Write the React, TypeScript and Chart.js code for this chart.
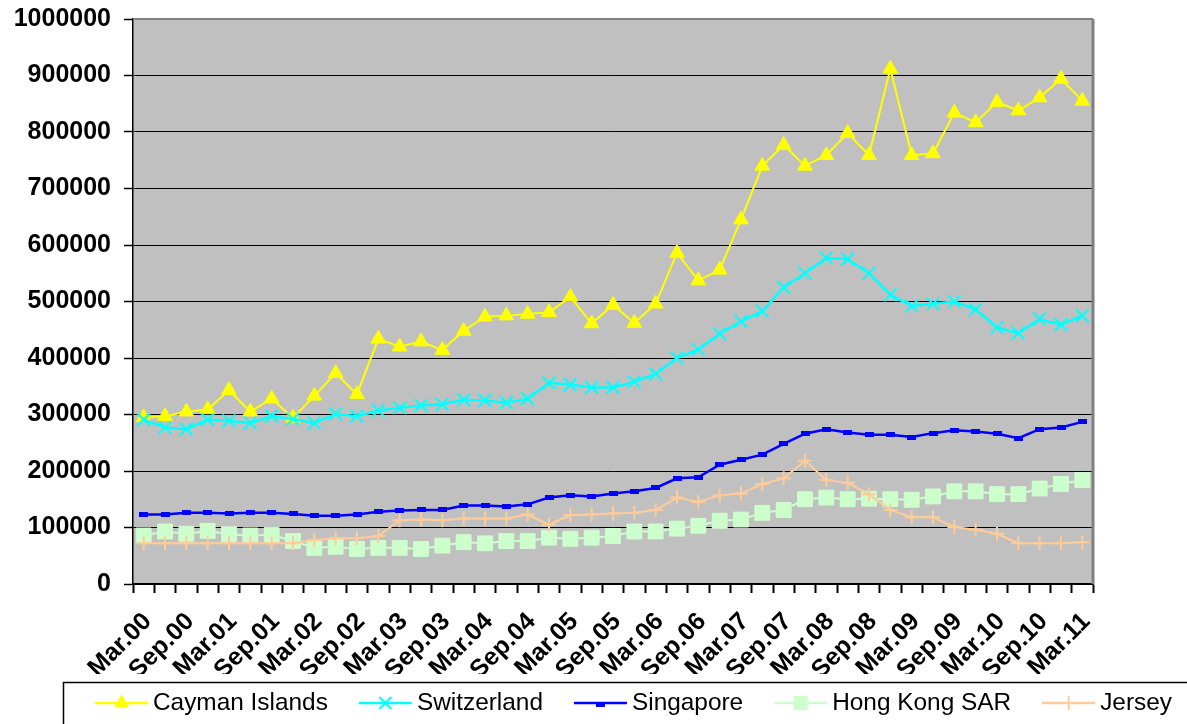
import React, { useEffect, useRef } from "react";
import { Chart, registerables } from "chart.js";

Chart.register(...registerables);

const categories = [
  "Mar.00", "Jun.00", "Sep.00", "Dec.00",
  "Mar.01", "Jun.01", "Sep.01", "Dec.01",
  "Mar.02", "Jun.02", "Sep.02", "Dec.02",
  "Mar.03", "Jun.03", "Sep.03", "Dec.03",
  "Mar.04", "Jun.04", "Sep.04", "Dec.04",
  "Mar.05", "Jun.05", "Sep.05", "Dec.05",
  "Mar.06", "Jun.06", "Sep.06", "Dec.06",
  "Mar.07", "Jun.07", "Sep.07", "Dec.07",
  "Mar.08", "Jun.08", "Sep.08", "Dec.08",
  "Mar.09", "Jun.09", "Sep.09", "Dec.09",
  "Mar.10", "Jun.10", "Sep.10", "Dec.10",
  "Mar.11",
];

const caymanIslands = [
  295000, 297000, 305000, 309000, 343000, 305000, 328000, 294000, 333000, 373000, 336000, 434000, 420000, 429000, 414000,
  448000, 473000, 475000, 478000, 481000, 508000, 461000, 494000, 462000, 496000, 586000, 537000, 556000, 645000, 740000,
  777000, 740000, 759000, 798000, 759000, 912000, 759000, 762000, 834000, 817000, 853000, 838000, 861000, 894000, 855000,
];

const switzerland = [
  291000, 277000, 274000, 291000, 289000, 285000, 297000, 292000, 285000, 301000, 297000, 307000, 312000, 316000, 318000,
  326000, 325000, 321000, 328000, 356000, 353000, 348000, 348000, 358000, 372000, 400000, 415000, 443000, 465000, 483000,
  525000, 550000, 577000, 575000, 550000, 512000, 492000, 496000, 500000, 486000, 454000, 444000, 469000, 459000, 475000,
];

const singapore = [
  123000, 123000, 126000, 126000, 125000, 126000, 126000, 124000, 121000, 121000, 123000, 128000, 130000, 131000, 131000,
  139000, 139000, 137000, 141000, 153000, 157000, 155000, 160000, 164000, 170000, 187000, 189000, 211000, 220000, 229000,
  248000, 266000, 274000, 268000, 264000, 264000, 260000, 267000, 272000, 270000, 266000, 258000, 274000, 277000, 287000,
];

const hongKongSAR = [
  86000, 93000, 89000, 94000, 88000, 86000, 87000, 76000, 64000, 66000, 62000, 64000, 64000, 62000, 68000,
  74000, 72000, 76000, 76000, 82000, 80000, 82000, 85000, 93000, 93000, 98000, 103000, 112000, 114000, 126000,
  131000, 150000, 153000, 150000, 151000, 150000, 149000, 155000, 164000, 164000, 159000, 159000, 169000, 177000, 184000,
];

const jersey = [
  72000, 72000, 72000, 72000, 72000, 72000, 72000, 72000, 78000, 81000, 81000, 85000, 113000, 114000, 113000,
  116000, 116000, 116000, 123000, 105000, 122000, 123000, 125000, 126000, 131000, 153000, 145000, 157000, 160000, 177000,
  187000, 218000, 184000, 179000, 159000, 131000, 118000, 118000, 101000, 96000, 89000, 72000, 72000, 72000, 74000,
];

const seriesNames = ["Cayman Islands", "Switzerland", "Singapore", "Hong Kong SAR", "Jersey"];
const seriesColors = ["#FFFF00", "#00FFFF", "#0000FF", "#CCFFCC", "#FFCC99"];
const seriesMarkers = ["triangle", "crossRot", "dash", "rect", "cross"];

const FONT = "'Liberation Sans', Arial, sans-serif";

function makeDashMarker(color: string) {
  const c = document.createElement("canvas");
  c.width = 9;
  c.height = 5;
  const g = c.getContext("2d")!;
  g.fillStyle = color;
  g.fillRect(0, 0, 9, 5);
  return c;
}

function drawMarker(ctx: CanvasRenderingContext2D, kind: string, x: number, y: number, color: string) {
  ctx.save();
  ctx.fillStyle = color;
  ctx.strokeStyle = color;
  ctx.lineWidth = 2;
  ctx.beginPath();
  if (kind === "triangle") {
    const r = 8.5;
    ctx.moveTo(x, y - r);
    ctx.lineTo(x + r * 0.866, y + r / 2);
    ctx.lineTo(x - r * 0.866, y + r / 2);
    ctx.closePath();
    ctx.fill();
  } else if (kind === "crossRot") {
    const r = 6;
    ctx.moveTo(x - r, y - r);
    ctx.lineTo(x + r, y + r);
    ctx.moveTo(x + r, y - r);
    ctx.lineTo(x - r, y + r);
    ctx.stroke();
  } else if (kind === "dash") {
    ctx.fillRect(x - 4.5, y - 1, 9, 5);
  } else if (kind === "rect") {
    ctx.fillRect(x - 7, y - 7, 14, 14);
  } else if (kind === "cross") {
    const r = 7;
    ctx.moveTo(x - r, y);
    ctx.lineTo(x + r, y);
    ctx.moveTo(x, y - r);
    ctx.lineTo(x, y + r);
    ctx.stroke();
  }
  ctx.restore();
}

const framePlugin = {
  id: "framePlugin",
  beforeDraw(chart: any) {
    const { ctx, chartArea: a } = chart;
    ctx.save();
    ctx.fillStyle = "#C0C0C0";
    ctx.fillRect(a.left, a.top, a.right - a.left, a.bottom - a.top);
    ctx.restore();
  },
  beforeDatasetsDraw(chart: any) {
    const { ctx, chartArea: a } = chart;
    ctx.save();
    ctx.strokeStyle = "#808080";
    ctx.lineWidth = 2;
    ctx.beginPath();
    ctx.moveTo(a.left, a.top);
    ctx.lineTo(a.right, a.top);
    ctx.stroke();
    ctx.lineWidth = 3;
    ctx.beginPath();
    ctx.moveTo(a.right, a.top);
    ctx.lineTo(a.right, a.bottom);
    ctx.stroke();
    ctx.restore();
  },
  afterDraw(chart: any) {
    const { ctx } = chart;
    ctx.save();
    ctx.strokeStyle = "#000000";
    ctx.lineWidth = 1.5;
    ctx.strokeRect(63.5, 682.5, 1200, 100);
    ctx.font = `24.4px ${FONT}`;
    ctx.textBaseline = "middle";
    ctx.textAlign = "left";
    const y = 703;
    let x = 95;
    seriesNames.forEach((name, i) => {
      ctx.strokeStyle = seriesColors[i];
      ctx.lineWidth = 2.5;
      ctx.beginPath();
      ctx.moveTo(x, y);
      ctx.lineTo(x + 53, y);
      ctx.stroke();
      drawMarker(ctx, seriesMarkers[i], x + 26.5, y, seriesColors[i]);
      ctx.fillStyle = "#000000";
      ctx.fillText(name, x + 58, y);
      x = x + 58 + ctx.measureText(name).width + 31;
    });
    ctx.restore();
  },
};

export default function App() {
  const canvasRef = useRef<HTMLCanvasElement | null>(null);

  useEffect(() => {
    if (!canvasRef.current) return;
    const dash = makeDashMarker("#0000FF");
    const values = [caymanIslands, switzerland, singapore, hongKongSAR, jersey];
    const pointStyles: any[] = ["triangle", "crossRot", dash, "rect", "cross"];
    const radii = [8.5, 9, 4, 10.5, 7];
    const lineWidths = [2, 2.5, 2.5, 2, 2];
    const chart = new Chart(canvasRef.current, {
      type: "line",
      data: {
        labels: categories,
        datasets: values.map((d, i) => ({
          label: seriesNames[i],
          data: d,
          borderColor: seriesColors[i],
          backgroundColor: seriesColors[i],
          pointBackgroundColor: seriesColors[i],
          pointBorderColor: seriesColors[i],
          pointStyle: pointStyles[i],
          pointRadius: radii[i],
          pointBorderWidth: i === 1 || i === 4 ? 2 : 1,
          borderWidth: lineWidths[i],
          tension: 0,
          fill: false,
          order: 5 - i,
        })),
      },
      options: {
        animation: false,
        responsive: false,
        devicePixelRatio: 1,
        layout: { padding: { left: 0, right: 94, top: 19, bottom: 50 } },
        plugins: { legend: { display: false }, tooltip: { enabled: false } },
        scales: {
          x: {
            type: "category",
            offset: true,
            grid: {
              offset: true,
              drawOnChartArea: false,
              drawTicks: true,
              tickLength: 9,
              tickColor: "#000000",
              tickWidth: 2,
            },
            border: { display: true, color: "#000000", width: 1.5 },
            ticks: {
              autoSkip: false,
              minRotation: 45,
              maxRotation: 45,
              padding: 14,
              labelOffset: 4,
              color: "#000000",
              font: { family: FONT, size: 25, weight: "bold" },
              callback: (_v: any, i: number) => (i % 2 === 0 ? categories[i] : ""),
            },
            afterFit: (s: any) => {
              s.height = 90;
            },
          },
          y: {
            min: 0,
            max: 1000000,
            grid: {
              color: "#000000",
              lineWidth: 1,
              drawTicks: true,
              tickLength: 9,
              tickColor: "#000000",
              tickWidth: 1.5,
            },
            border: { display: true, color: "#000000", width: 1.5 },
            ticks: {
              stepSize: 100000,
              padding: 13,
              color: "#000000",
              font: { family: FONT, size: 25, weight: "bold", lineHeight: 0.48 },
              callback: (v: any) => String(v),
            },
            afterFit: (s: any) => {
              s.width = 133;
            },
          },
        },
      },
      plugins: [framePlugin],
    });
    return () => chart.destroy();
  }, []);

  return (
    <div style={{ position: "absolute", left: 0, top: 0, width: 1187, height: 724, background: "#FFFFFF" }}>
      <canvas ref={canvasRef} width={1187} height={724} style={{ width: 1187, height: 724, display: "block" }} />
    </div>
  );
}
